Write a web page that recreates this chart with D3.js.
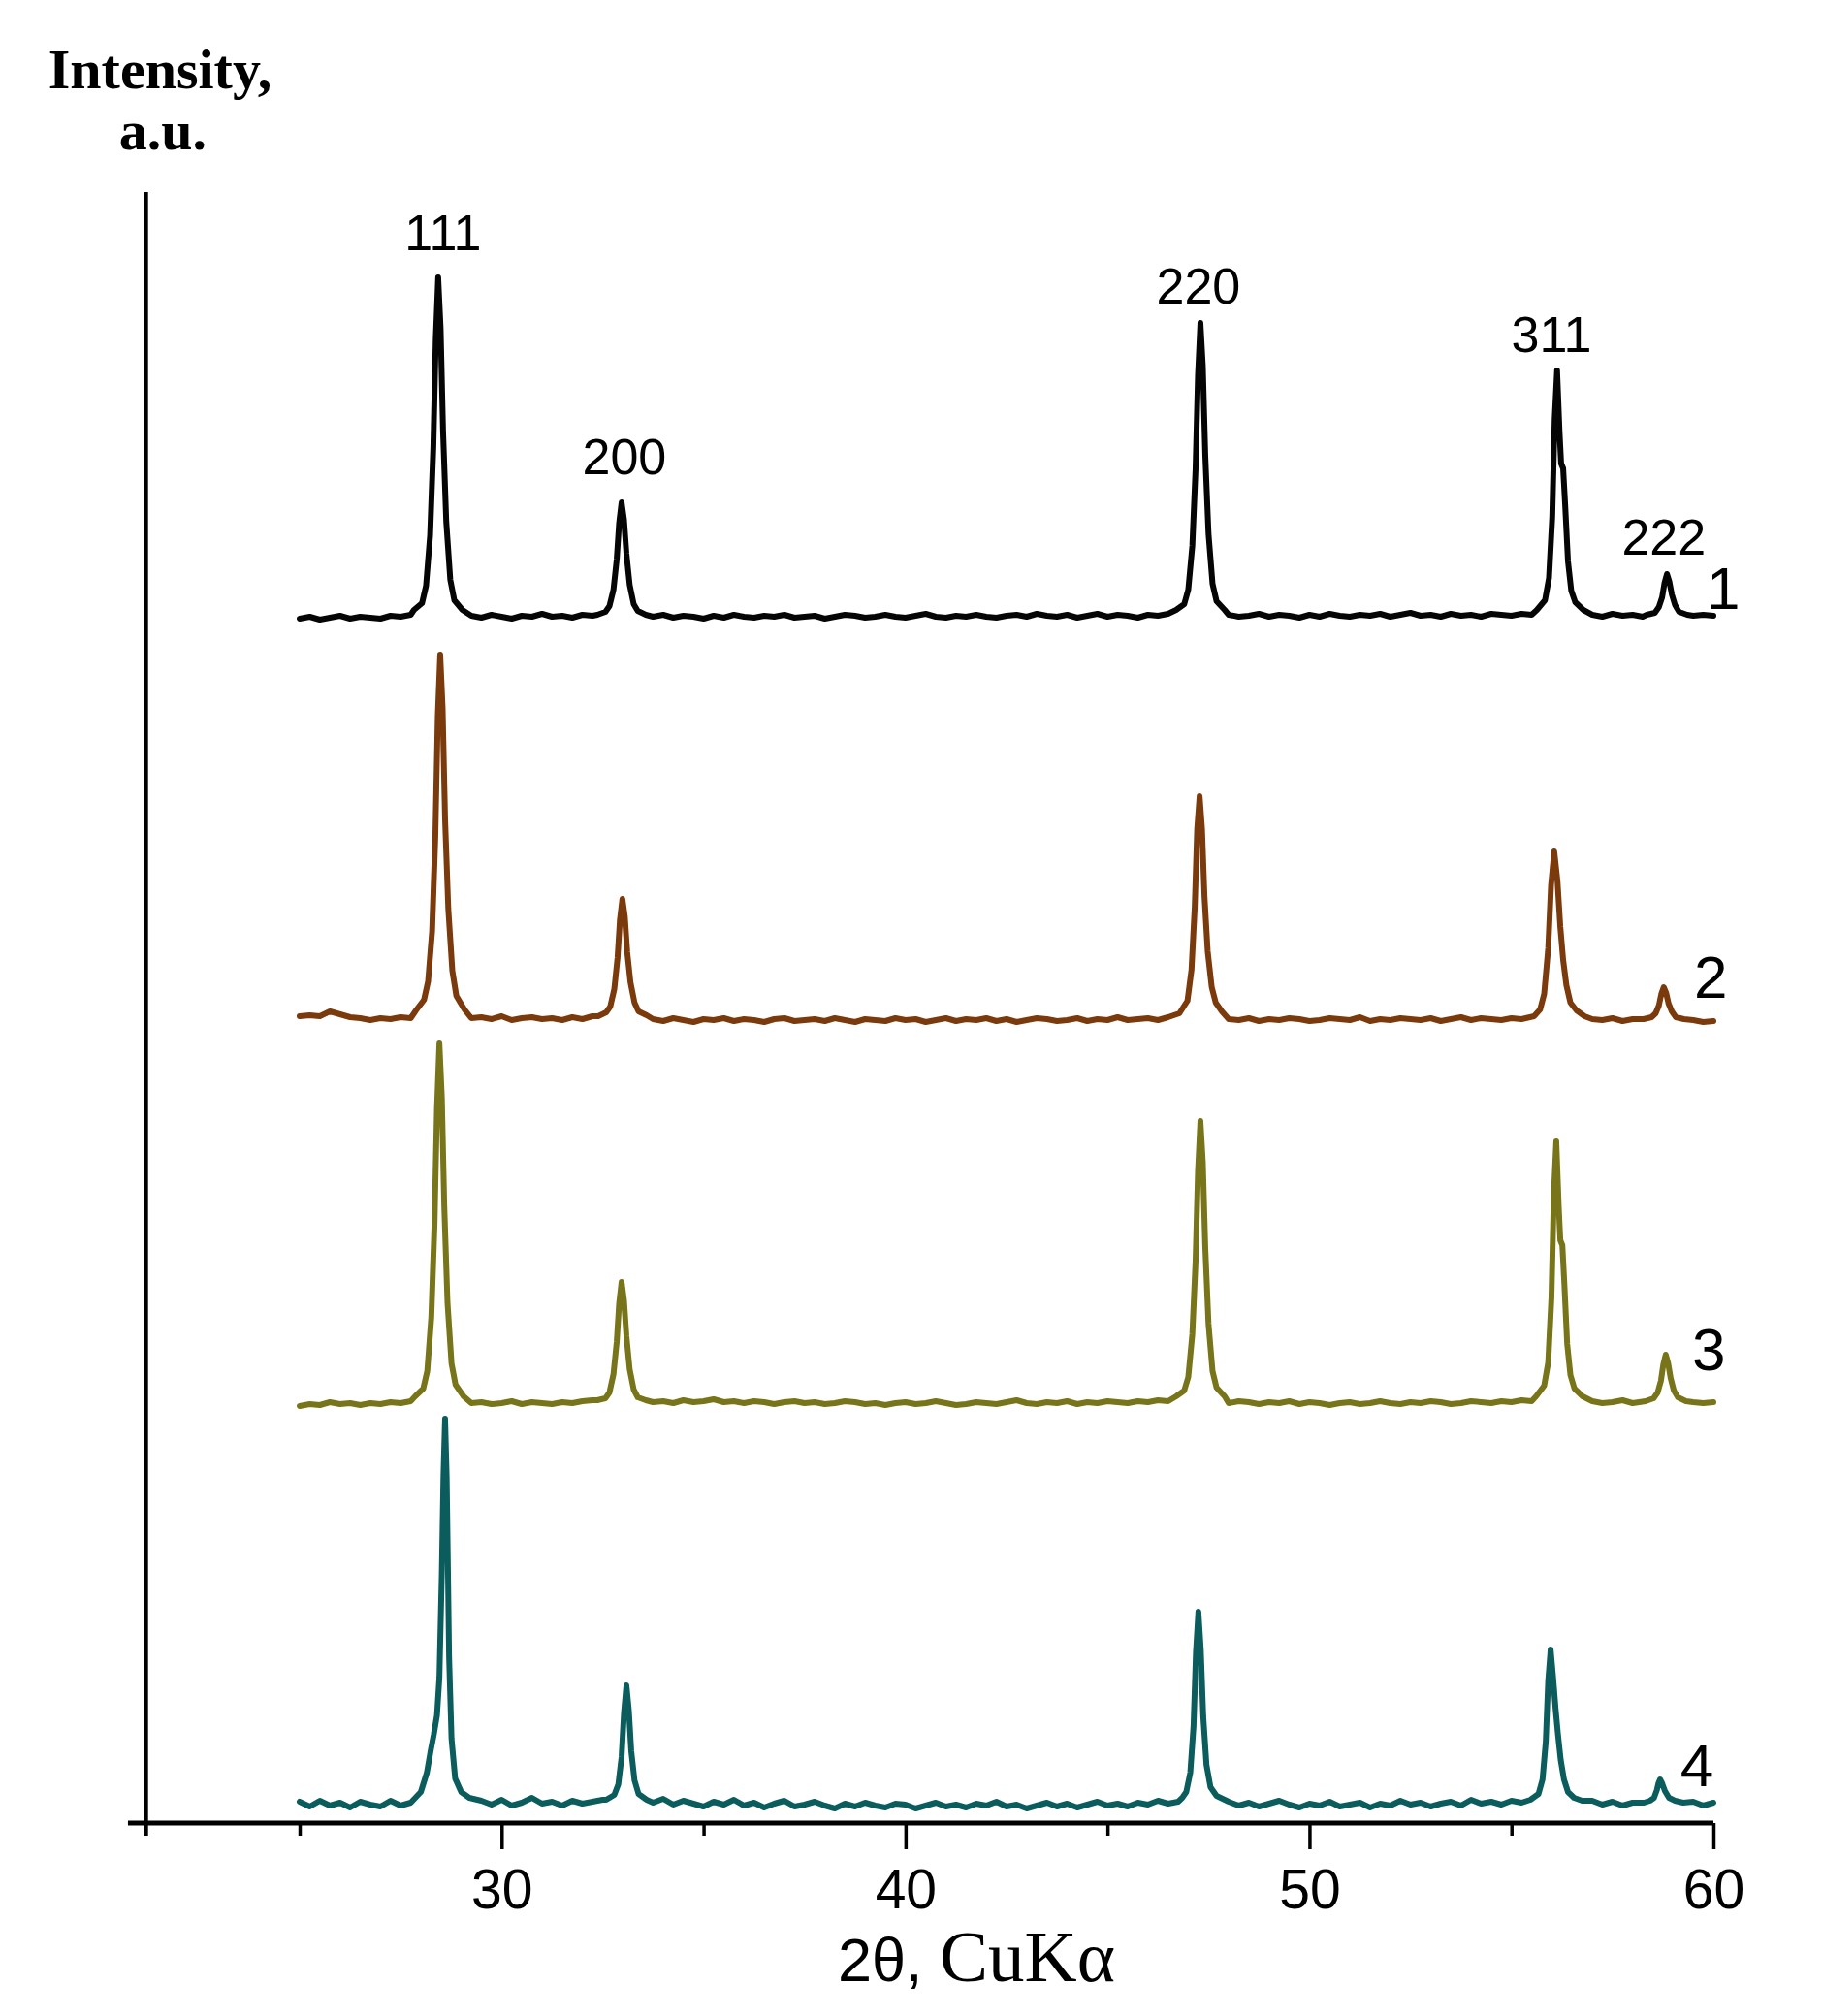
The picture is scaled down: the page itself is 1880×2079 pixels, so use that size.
<!DOCTYPE html>
<html>
<head>
<meta charset="utf-8">
<script src="https://cdn.jsdelivr.net/npm/d3@7"></script>
<style>
  html, body { margin: 0; padding: 0; background: #fff; }
  svg { display: block; }
</style>
</head>
<body>
<script>
// ---------- DATA ----------
// 2θ (deg) vs intensity (a.u., per-pattern, before vertical stacking offset)
const pattern1 = [
  [25.0,8],[25.25,10],[25.5,7],[25.75,9],[26.0,11],[26.25,8],[26.5,10],[26.75,9],[27.0,8],[27.25,11],[27.5,10],[27.75,12],
  [27.83,17],[28.03,24],[28.13,42],[28.23,94],[28.31,185],[28.37,297],[28.43,360],[28.49,307],[28.55,202],[28.63,108],[28.73,48],[28.83,27],[29.03,17],
  [29.25,11],[29.5,9],[29.75,12],[30.0,10],[30.25,8],[30.5,11],[30.75,10],[31.0,13],[31.25,10],[31.5,11],[31.75,9],[32.0,12],[32.25,11],
  [32.37,12],[32.57,15],[32.67,21],[32.77,38],[32.85,69],[32.91,107],[32.97,128],[33.03,110],[33.09,75],[33.17,43],[33.27,23],[33.37,16],[33.57,12],
  [33.75,10],[34.0,12],[34.25,9],[34.5,11],[34.75,10],[35.0,8],[35.25,11],[35.5,9],[35.75,12],[36.0,10],
  [36.25,9],[36.5,11],[36.75,10],[37.0,12],[37.25,9],[37.5,10],[37.75,11],[38.0,8],[38.25,10],[38.5,12],
  [38.75,11],[39.0,9],[39.25,10],[39.5,12],[39.75,10],[40.0,9],[40.25,11],[40.5,13],[40.75,10],[41.0,9],
  [41.25,11],[41.5,10],[41.75,12],[42.0,10],[42.25,9],[42.5,11],[42.75,12],[43.0,10],[43.25,13],[43.5,11],
  [43.75,10],[44.0,12],[44.25,9],[44.5,11],[44.75,13],[45.0,10],[45.25,12],[45.5,11],[45.75,9],[46.0,12],
  [46.25,11],[46.5,13],
  [46.7,17],[46.9,23],[47.0,38],[47.1,83],[47.18,162],[47.24,259],[47.30,313],[47.36,268],[47.42,177],[47.5,96],[47.6,44],[47.7,26],[47.9,17],
  [48.0,12],[48.25,10],[48.5,11],[48.75,13],[49.0,10],[49.25,12],[49.5,11],[49.75,9],[50.0,12],[50.25,10],
  [50.5,13],[50.75,11],[51.0,10],[51.25,12],[51.5,11],[51.75,13],[52.0,10],[52.25,12],[52.5,14],[52.75,11],
  [53.0,12],[53.25,10],[53.5,13],[53.75,11],[54.0,12],[54.25,10],[54.5,13],[54.75,12],[55.0,11],[55.25,13],[55.5,12],
  [55.63,17],[55.83,27],[55.93,50],[56.01,113],[56.07,214],[56.13,264],[56.19,201],[56.23,168],[56.28,163],[56.33,125],[56.40,67],[56.48,37],[56.58,25],[56.78,17],
  [57.0,12],[57.25,10],[57.5,13],[57.75,11],[58.0,12],[58.25,10],
  [58.35,12],[58.55,14],[58.65,20],[58.73,30],[58.79,45],[58.85,54],[58.91,46],[58.97,33],[59.05,22],[59.15,15],[59.35,12],
  [59.5,11],[59.75,12],[60.0,11]
];
const pattern2 = [
  [25.0,12],[25.25,13],[25.5,12],[25.75,17],[26.0,14],[26.25,11],[26.5,10],[26.75,8],[27.0,10],[27.25,9],[27.5,11],[27.75,10],
  [27.88,18],[28.08,29],[28.18,48],[28.28,100],[28.36,198],[28.42,321],[28.48,385],[28.54,329],[28.60,216],[28.68,123],[28.78,59],[28.88,33],[29.08,19],
  [29.25,10],[29.5,11],[29.75,9],[30.0,12],[30.25,8],[30.5,10],[30.75,11],[31.0,9],[31.25,10],[31.5,8],[31.75,11],[32.0,9],[32.25,12],
  [32.39,12],[32.59,16],[32.69,22],[32.79,40],[32.87,72],[32.93,112],[32.99,133],[33.05,115],[33.11,78],[33.19,47],[33.29,26],[33.39,17],[33.59,13],
  [33.75,9],[34.0,7],[34.25,10],[34.5,8],[34.75,6],[35.0,9],[35.25,8],[35.5,10],[35.75,7],[36.0,9],
  [36.25,8],[36.5,6],[36.75,9],[37.0,10],[37.25,7],[37.5,8],[37.75,9],[38.0,7],[38.25,10],[38.5,8],
  [38.75,6],[39.0,9],[39.25,8],[39.5,7],[39.75,10],[40.0,8],[40.25,9],[40.5,6],[40.75,8],[41.0,10],
  [41.25,7],[41.5,9],[41.75,8],[42.0,10],[42.25,7],[42.5,9],[42.75,6],[43.0,8],[43.25,10],[43.5,9],
  [43.75,7],[44.0,8],[44.25,10],[44.5,7],[44.75,9],[45.0,8],[45.25,11],[45.5,8],[45.75,9],[46.0,10],
  [46.25,8],[46.5,11],
  [46.78,15],[46.98,28],[47.08,60],[47.16,125],[47.22,205],[47.28,239],[47.34,205],[47.40,136],[47.48,79],[47.58,42],[47.68,26],[47.83,17],
  [48.0,9],[48.25,8],[48.5,10],[48.75,7],[49.0,9],[49.25,8],[49.5,10],[49.75,9],[50.0,7],[50.25,8],
  [50.5,10],[50.75,9],[51.0,8],[51.25,11],[51.5,7],[51.75,9],[52.0,8],[52.25,10],[52.5,9],[52.75,8],
  [53.0,10],[53.25,7],[53.5,9],[53.75,11],[54.0,8],[54.25,10],[54.5,9],[54.75,8],[55.0,10],[55.25,9],
  [55.56,12],[55.71,19],[55.81,35],[55.91,82],[55.98,147],[56.06,182],[56.14,151],[56.21,104],[56.28,70],[56.36,44],[56.46,26],[56.61,18],[56.81,12],
  [57.0,9],[57.25,8],[57.5,10],[57.75,7],[58.0,9],
  [58.27,9],[58.47,11],[58.57,15],[58.65,23],[58.71,35],[58.77,42],[58.83,36],[58.89,25],[58.97,17],[59.07,11],[59.27,9],
  [59.5,8],[59.75,6],[60.0,7]
];
const pattern3 = [
  [25.0,7],[25.25,9],[25.5,8],[25.75,11],[26.0,9],[26.25,10],[26.5,8],[26.75,10],[27.0,9],[27.25,11],[27.5,10],[27.75,12],
  [27.86,17],[28.06,25],[28.16,43],[28.26,99],[28.34,196],[28.40,314],[28.46,381],[28.52,325],[28.58,214],[28.66,114],[28.76,51],[28.86,29],[29.06,17],
  [29.25,10],[29.5,11],[29.75,9],[30.0,10],[30.25,12],[30.5,9],[30.75,11],[31.0,10],[31.25,9],[31.5,11],[31.75,10],[32.0,12],[32.25,13],
  [32.37,13],[32.57,15],[32.67,21],[32.77,40],[32.85,73],[32.91,113],[32.97,135],[33.03,116],[33.09,79],[33.17,45],[33.27,24],[33.37,16],[33.57,13],
  [33.75,11],[34.0,12],[34.25,10],[34.5,13],[34.75,11],[35.0,12],[35.25,14],[35.5,11],[35.75,12],[36.0,10],
  [36.25,12],[36.5,11],[36.75,9],[37.0,11],[37.25,12],[37.5,10],[37.75,11],[38.0,9],[38.25,10],[38.5,12],
  [38.75,11],[39.0,9],[39.25,10],[39.5,8],[39.75,10],[40.0,11],[40.25,9],[40.5,10],[40.75,12],[41.0,10],
  [41.25,8],[41.5,9],[41.75,11],[42.0,10],[42.25,9],[42.5,11],[42.75,13],[43.0,10],[43.25,9],[43.5,11],
  [43.75,10],[44.0,12],[44.25,9],[44.5,11],[44.75,10],[45.0,12],[45.25,11],[45.5,10],[45.75,12],[46.0,11],
  [46.25,13],[46.5,12],
  [46.7,17],[46.9,23],[47.0,37],[47.1,81],[47.18,156],[47.24,249],[47.30,301],[47.36,258],[47.42,171],[47.5,92],[47.6,43],[47.7,26],[47.9,17],
  [48.0,10],[48.25,12],[48.5,11],[48.75,9],[49.0,11],[49.25,10],[49.5,12],[49.75,9],[50.0,11],[50.25,10],
  [50.5,8],[50.75,10],[51.0,11],[51.25,9],[51.5,10],[51.75,12],[52.0,10],[52.25,9],[52.5,11],[52.75,10],
  [53.0,12],[53.25,11],[53.5,9],[53.75,10],[54.0,12],[54.25,11],[54.5,10],[54.75,12],[55.0,11],[55.25,13],[55.5,12],
  [55.61,17],[55.81,28],[55.91,52],[55.99,119],[56.05,226],[56.11,280],[56.17,213],[56.21,178],[56.26,173],[56.31,133],[56.38,71],[56.46,39],[56.56,25],[56.76,17],
  [57.0,12],[57.25,10],[57.5,11],[57.75,13],[58.0,10],
  [58.32,12],[58.52,15],[58.62,21],[58.70,33],[58.76,50],[58.82,60],[58.88,51],[58.94,36],[59.02,23],[59.12,16],[59.32,12],
  [59.5,11],[59.75,10],[60.0,11]
];
const pattern4 = [
  [25.0,12],[25.25,7],[25.5,13],[25.75,8],[26.0,11],[26.25,6],[26.5,12],[26.75,9],[27.0,7],[27.25,13],[27.5,8],[27.75,11],
  [28.0,22],[28.15,42],[28.25,66],[28.32,81],[28.40,101],[28.46,140],[28.52,248],[28.56,347],[28.60,407],[28.64,347],[28.67,256],[28.70,161],[28.76,77],[28.85,36],[29.0,22],[29.2,16],
  [29.5,13],[29.75,9],[30.0,14],[30.25,8],[30.5,11],[30.75,16],[31.0,10],[31.25,12],[31.5,8],[31.75,13],[32.0,10],[32.25,12],[32.5,14],
  [32.59,14],[32.79,19],[32.89,30],[32.97,58],[33.03,104],[33.09,132],[33.15,106],[33.21,64],[33.29,34],[33.39,20],[33.59,14],
  [33.75,11],[34.0,15],[34.25,9],[34.5,13],[34.75,10],[35.0,7],[35.25,12],[35.5,9],[35.75,14],[36.0,8],
  [36.25,11],[36.5,6],[36.75,10],[37.0,13],[37.25,7],[37.5,9],[37.75,12],[38.0,8],[38.25,5],[38.5,10],
  [38.75,7],[39.0,11],[39.25,8],[39.5,6],[39.75,10],[40.0,9],[40.25,5],[40.5,8],[40.75,11],[41.0,7],
  [41.25,9],[41.5,6],[41.75,10],[42.0,8],[42.25,12],[42.5,7],[42.75,9],[43.0,5],[43.25,8],[43.5,11],
  [43.75,7],[44.0,10],[44.25,6],[44.5,9],[44.75,12],[45.0,8],[45.25,10],[45.5,7],[45.75,11],[46.0,9],
  [46.25,13],[46.5,10],[46.75,12],
  [46.85,16],[46.95,22],[47.05,42],[47.13,90],[47.19,166],[47.25,208],[47.31,168],[47.37,100],[47.45,50],[47.55,27],[47.7,18],[47.9,14],
  [48.0,12],[48.25,8],[48.5,11],[48.75,7],[49.0,10],[49.25,13],[49.5,9],[49.75,6],[50.0,10],[50.25,8],
  [50.5,12],[50.75,7],[51.0,9],[51.25,11],[51.5,6],[51.75,10],[52.0,8],[52.25,13],[52.5,9],[52.75,11],
  [53.0,7],[53.25,10],[53.5,12],[53.75,8],[54.0,14],[54.25,10],[54.5,12],[54.75,9],[55.0,13],[55.25,11],
  [55.47,14],[55.67,20],[55.77,35],[55.85,74],[55.91,137],[55.97,169],[56.03,141],[56.09,109],[56.15,82],[56.22,55],[56.3,35],[56.4,22],[56.55,16],[56.75,13],
  [57.0,13],[57.25,9],[57.5,12],[57.75,8],[58.0,11],
  [58.28,11],[58.43,13],[58.53,16],[58.6,24],[58.64,31],[58.68,35],[58.73,31],[58.8,23],[58.9,16],[59.05,13],[59.25,11],
  [59.5,12],[59.75,8],[60.0,11]
];

const patterns = [pattern1, pattern2, pattern3, pattern4];
const patternNames = ["1", "2", "3", "4"];
const patternOffsets = [1234, 820, 423, 10];          // vertical stacking offsets (a.u.)
const patternColors = ["#050505", "#7a3a0c", "#787419", "#0b5d5d"];
const patternLabelTheta = [59.83, 59.52, 59.47, 59.18];
const patternLabelLevel = [1252, 851, 467, 38];

const peakLabels = ["111", "200", "220", "311", "222"];
const peakLabelTheta = [28.55, 33.04, 47.25, 55.99, 58.77];
const peakLabelLevel = [1622, 1391, 1567, 1517, 1308];

const majorTicks = [30, 40, 50, 60];
const minorTicks = [25, 35, 45, 55];
const xDomain = [25, 60];
const yDomain = [0, 1700];
const axisLeftTheta = 20.75;   // x-axis line starts left of the y axis
const yAxisTheta = 21.2;       // position of the vertical axis
const yAxisTop = 1682;
const yAxisBottom = -13;

const xTitleParts = ["2θ, ", "CuKα"];
const yTitleLines = ["Intensity,", "a.u."];

// ---------- CHART ----------
const W = 1880, H = 2079;
const svg = d3.select("body").append("svg").attr("width", W).attr("height", H);

const x = d3.scaleLinear().domain(xDomain).range([309, 1767]);
const y = d3.scaleLinear().domain(yDomain).range([1880, 180]);

const sans = "'Liberation Sans', Arial, Helvetica, sans-serif";
const serif = "'Liberation Serif', 'Times New Roman', Times, serif";

// y-axis title
const yt = svg.append("text")
  .attr("text-anchor", "middle")
  .style("font-family", serif).style("font-weight", "bold").style("font-size", "58px")
  .attr("fill", "#000");
yt.append("tspan").attr("x", 165).attr("y", 91).text(yTitleLines[0]);
yt.append("tspan").attr("x", 168).attr("y", 154).text(yTitleLines[1]);

// vertical axis line
svg.append("line")
  .attr("x1", x(yAxisTheta)).attr("x2", x(yAxisTheta))
  .attr("y1", y(yAxisTop)).attr("y2", y(yAxisBottom))
  .attr("stroke", "#000").attr("stroke-width", 4);

// patterns
const line = d3.line().x(d => x(d[0])).curve(d3.curveLinear);
patterns.forEach((p, i) => {
  svg.append("path")
    .datum(p)
    .attr("fill", "none")
    .attr("stroke", patternColors[i])
    .attr("stroke-width", 6)
    .attr("stroke-linejoin", "round")
    .attr("stroke-linecap", "round")
    .attr("d", line.y(d => y(d[1] + patternOffsets[i])));
});

// x axis
const xAxisG = svg.append("g").attr("transform", `translate(0,${y(0)})`);
xAxisG.append("line")
  .attr("x1", x(axisLeftTheta)).attr("x2", x(xDomain[1]))
  .attr("y1", 0).attr("y2", 0)
  .attr("stroke", "#000").attr("stroke-width", 5);

const majorAxis = d3.axisBottom(x).tickValues(majorTicks).tickSize(27).tickPadding(0).tickFormat(d3.format("d"));
const gMaj = xAxisG.append("g").call(majorAxis);
gMaj.select(".domain").remove();
gMaj.selectAll(".tick line").attr("stroke", "#000").attr("stroke-width", 3.5);
gMaj.selectAll(".tick text")
  .attr("y", 88).attr("dy", null)
  .style("font-family", sans).style("font-size", "57px").attr("fill", "#000");

const minorAxis = d3.axisBottom(x).tickValues(minorTicks).tickSize(13).tickFormat("");
const gMin = xAxisG.append("g").call(minorAxis);
gMin.select(".domain").remove();
gMin.selectAll(".tick line").attr("stroke", "#000").attr("stroke-width", 3.5);

// x-axis title
const xt = svg.append("text").attr("x", 864).attr("y", 2043).attr("fill", "#000");
xt.append("tspan").style("font-family", sans).style("font-size", "63px").text(xTitleParts[0]);
xt.append("tspan").style("font-family", serif).style("font-size", "75px").text(xTitleParts[1]);

// peak (hkl) labels
svg.selectAll("text.hkl")
  .data(peakLabels)
  .join("text")
  .attr("class", "hkl")
  .attr("x", (d, i) => x(peakLabelTheta[i]))
  .attr("y", (d, i) => y(peakLabelLevel[i]))
  .attr("text-anchor", "middle")
  .style("font-family", sans).style("font-size", "52px")
  .attr("fill", "#000")
  .text(d => d);

// pattern numbers
svg.selectAll("text.pname")
  .data(patternNames)
  .join("text")
  .attr("class", "pname")
  .attr("x", (d, i) => x(patternLabelTheta[i]))
  .attr("y", (d, i) => y(patternLabelLevel[i]))
  .attr("text-anchor", "start")
  .style("font-family", sans).style("font-size", "62px")
  .attr("fill", "#000")
  .text(d => d);
</script>
</body>
</html>
